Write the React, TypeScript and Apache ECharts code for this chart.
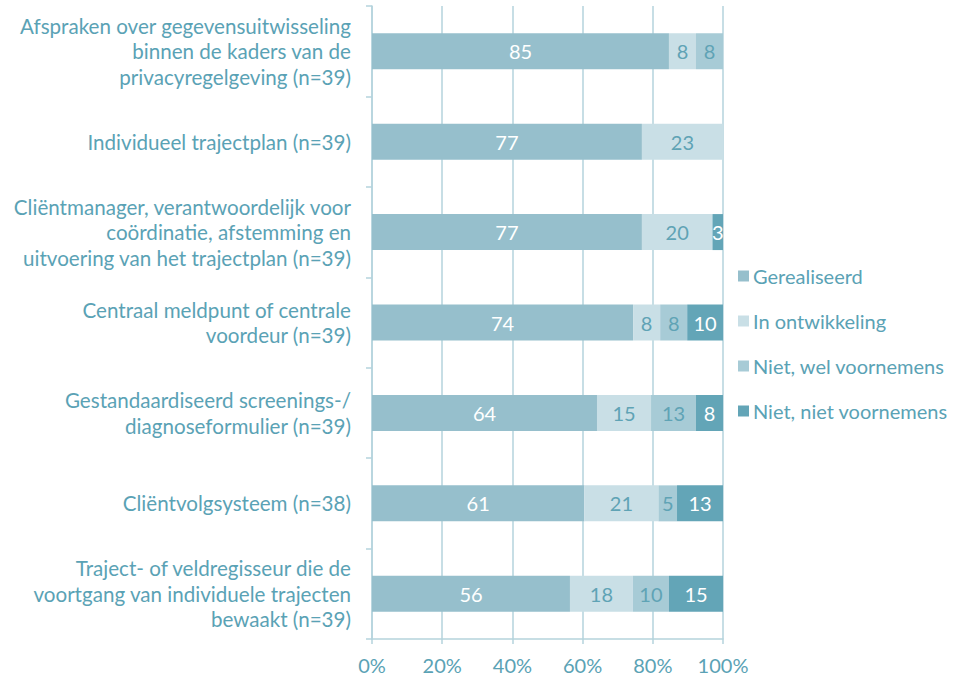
import React, { useEffect, useRef } from "react";
import * as echarts from "echarts";

const categories = [
  "Afspraken over gegevensuitwisseling\nbinnen de kaders van de\nprivacyregelgeving (n=39)",
  "Individueel trajectplan (n=39)",
  "Cliëntmanager, verantwoordelijk voor\ncoördinatie, afstemming en\nuitvoering van het trajectplan (n=39)",
  "Centraal meldpunt of centrale\nvoordeur (n=39)",
  "Gestandaardiseerd screenings-/\ndiagnoseformulier (n=39)",
  "Cliëntvolgsysteem (n=38)",
  "Traject- of veldregisseur die de\nvoortgang van individuele trajecten\nbewaakt (n=39)",
];

const seriesNames = ["Gerealiseerd", "In ontwikkeling", "Niet, wel voornemens", "Niet, niet voornemens"];

const gerealiseerd = [84.6, 76.9, 76.9, 74.4, 64.1, 60.5, 56.4];
const inOntwikkeling = [7.7, 23.1, 20.1, 7.7, 15.4, 21.1, 17.9];
const nietWelVoornemens = [7.7, 0, 0, 7.7, 12.8, 5.3, 10.3];
const nietNietVoornemens = [0, 0, 3.0, 10.3, 7.7, 13.2, 15.4];

const xTicks = [0, 20, 40, 60, 80, 100];

const colors = ["#96bfcc", "#c9dfe6", "#a7cbd6", "#63a5b7"];
const labelColors = ["#ffffff", "#5fa3b5", "#5fa3b5", "#ffffff"];
const teal = "#5aa2b5";
const lineColor = "#b5d3dc";
const font = "Lato";

export default function App() {
  const ref = useRef<HTMLDivElement>(null);
  useEffect(() => {
    const chart = echarts.init(ref.current!, null, { renderer: "svg" });
    const values = [gerealiseerd, inOntwikkeling, nietWelVoornemens, nietNietVoornemens];
    chart.setOption({
      animation: false,
      textStyle: { fontFamily: font },
      grid: { left: 372, right: 236, top: 6, bottom: 42, containLabel: false },
      legend: {
        orient: "vertical",
        left: 733,
        top: 261,
        itemWidth: 11,
        itemHeight: 11,
        itemGap: 25,
        icon: "rect",
        textStyle: { color: teal, fontSize: 20, fontFamily: font, padding: [0, 0, 0, -1] },
        data: seriesNames,
      },
      xAxis: {
        type: "value",
        min: 0,
        max: 100,
        interval: 20,
        axisLine: { show: true, lineStyle: { color: lineColor, width: 1.5 } },
        axisTick: { show: true, length: 5, lineStyle: { color: lineColor, width: 1.5 } },
        splitLine: { show: true, lineStyle: { color: lineColor, width: 1.5 } },
        axisLabel: {
          color: teal,
          fontSize: 20,
          margin: 16,
          formatter: (v: number) => (xTicks.includes(v) ? v + "%" : ""),
        },
      },
      yAxis: {
        type: "category",
        inverse: true,
        data: categories,
        axisLine: { show: true, lineStyle: { color: lineColor, width: 1.5 } },
        axisTick: { show: true, length: 6, lineStyle: { color: lineColor, width: 1.5 } },
        axisLabel: {
          color: teal,
          fontSize: 20.6,
          lineHeight: 25.5,
          margin: 21,
          align: "right",
        },
      },
      series: values.map((vals, i) => ({
        name: seriesNames[i],
        type: "bar",
        stack: "total",
        barWidth: 36,
        itemStyle: { color: colors[i] },
        label: {
          show: true,
          position: "inside",
          color: labelColors[i],
          fontSize: 20,
          fontFamily: font,
          formatter: (p: any) => (p.value > 0 ? String(Math.round(p.value)) : ""),
        },
        data: vals,
      })),
    });
    return () => chart.dispose();
  }, []);
  return <div ref={ref} style={{ width: 959, height: 681, position: "absolute", left: 0, top: 0 }} />;
}
